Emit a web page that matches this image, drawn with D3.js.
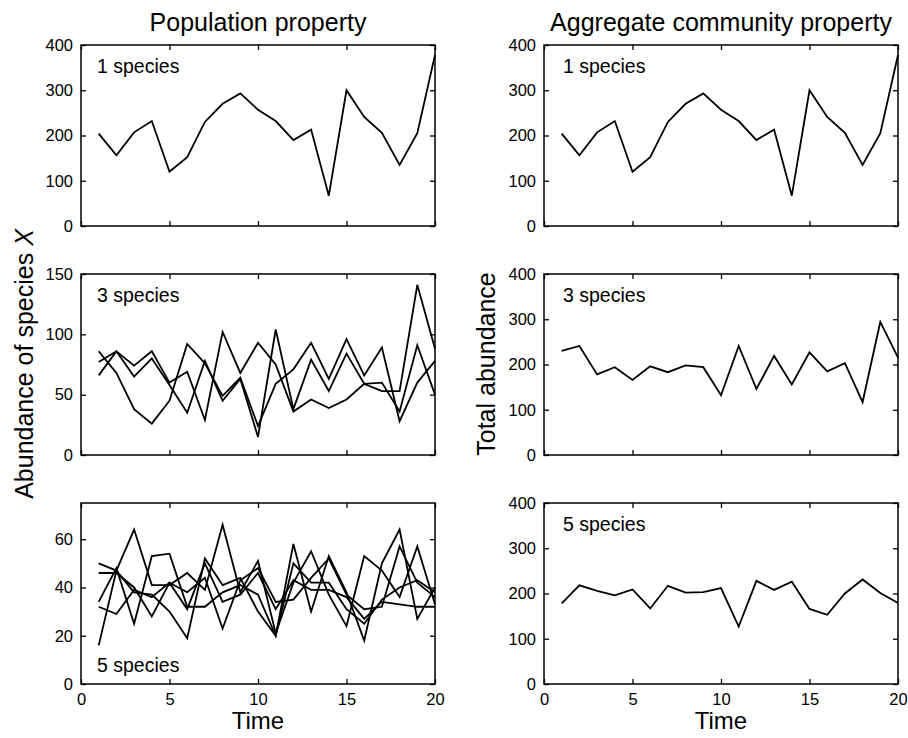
<!DOCTYPE html>
<html>
<head>
<meta charset="utf-8">
<script src="https://cdn.jsdelivr.net/npm/d3@7"></script>
<style>
  body { margin: 0; background: #fff; }
  svg { font-family: "Liberation Sans", Arial, sans-serif; }
</style>
</head>
<body>
<svg id="svg" width="908" height="738"></svg>
<script>
var time = d3.range(1, 21);
var xTicks = [0, 5, 10, 15, 20];

// one species (population = community)
var oneSpecies = [204, 156, 207, 232, 120, 152, 230, 270, 293, 257, 232, 190, 213, 67, 300, 241, 206, 135, 205, 378];

// three species populations
var threeA = [86, 68, 38, 26, 45, 92, 76, 49, 64, 24, 59, 71, 93, 63, 96, 66, 89, 28, 60, 78];
var threeB = [77, 86, 74, 86, 60, 69, 29, 102, 68, 93, 75, 36, 46, 39, 46, 59, 53, 53, 141, 88];
var threeC = [66, 86, 65, 80, 58, 35, 78, 45, 63, 15, 104, 38, 79, 53, 84, 59, 60, 36, 91, 50];
var threeTotal = [230, 241, 178, 194, 166, 196, 183, 198, 194, 132, 241, 146, 219, 156, 227, 185, 203, 117, 294, 215];

// five species populations
var five1 = [16, 47, 64, 41, 41, 46, 39, 66, 38, 51, 21, 42, 55, 37, 24, 53, 47, 36, 57, 33];
var five2 = [50, 47, 38, 37, 30, 19, 52, 41, 44, 30, 20, 58, 30, 53, 38, 18, 50, 64, 27, 40];
var five3 = [46, 46, 40, 28, 42, 38, 44, 23, 43, 48, 34, 35, 44, 52, 37, 31, 32, 57, 42, 36];
var five4 = [34, 48, 25, 53, 54, 32, 32, 38, 41, 37, 20, 50, 42, 42, 31, 25, 35, 40, 43, 38];
var five5 = [32, 29, 39, 36, 42, 31, 50, 34, 37, 46, 31, 43, 39, 39, 36, 27, 34, 33, 32, 32];
var fiveTotal = [178, 218, 206, 196, 209, 167, 217, 202, 203, 212, 127, 228, 208, 226, 166, 153, 200, 231, 201, 179];

var panels = [
  {col: 0, row: 0, label: "1 species", top: true, max: 400, ticks: [0, 100, 200, 300, 400], series: [oneSpecies]},
  {col: 0, row: 1, label: "3 species", top: true, max: 150, ticks: [0, 50, 100, 150], series: [threeA, threeB, threeC]},
  {col: 0, row: 2, label: "5 species", top: false, max: 75, ticks: [0, 20, 40, 60], series: [five1, five2, five3, five4, five5]},
  {col: 1, row: 0, label: "1 species", top: true, max: 400, ticks: [0, 100, 200, 300, 400], series: [oneSpecies]},
  {col: 1, row: 1, label: "3 species", top: true, max: 400, ticks: [0, 100, 200, 300, 400], series: [threeTotal]},
  {col: 1, row: 2, label: "5 species", top: true, max: 400, ticks: [0, 100, 200, 300, 400], series: [fiveTotal]}
];

var svg = d3.select('#svg');
var colX = [81, 544];
var rowY = [45, 274, 503];
var w = 354, h = 181;
var tickLen = 5;

panels.forEach(function(p) {
  var g = svg.append('g').attr('transform', 'translate(' + colX[p.col] + ',' + rowY[p.row] + ')');
  var x = d3.scaleLinear().domain([0, 20]).range([0, w]);
  var y = d3.scaleLinear().domain([0, p.max]).range([h, 0]);

  // inward ticks on all four sides
  var bottom = g.append('g').attr('transform', 'translate(0,' + h + ')')
    .call(d3.axisBottom(x).tickValues(xTicks).tickSize(-tickLen).tickPadding(9));
  if (p.row != 2) bottom.selectAll('text').remove();
  g.append('g').call(d3.axisTop(x).tickValues(xTicks).tickSize(-tickLen).tickFormat(''));
  g.append('g').call(d3.axisLeft(y).tickValues(p.ticks).tickSize(-tickLen).tickPadding(8));
  g.append('g').attr('transform', 'translate(' + w + ',0)')
    .call(d3.axisRight(y).tickValues(p.ticks).tickSize(-tickLen).tickFormat(''));

  g.selectAll('.domain').remove();
  g.selectAll('.tick line').attr('stroke', '#000').attr('stroke-width', 1.3);
  g.selectAll('.tick text').attr('font-size', 16.5).attr('fill', '#000')
    .attr('font-family', '"Liberation Sans", Arial, sans-serif');

  g.append('rect').attr('width', w).attr('height', h)
    .attr('fill', 'none').attr('stroke', '#000').attr('stroke-width', 1.5);

  var line = d3.line().x(function(d, i) { return x(time[i]); }).y(function(d) { return y(d); });
  g.selectAll('path.series').data(p.series).enter().append('path')
    .attr('class', 'series')
    .attr('d', line)
    .attr('fill', 'none').attr('stroke', '#000').attr('stroke-width', 1.8)
    .attr('stroke-linejoin', 'miter');

  g.append('text')
    .attr('x', p.col == 0 ? 16 : 19)
    .attr('y', p.top ? 28 : h - 12)
    .attr('font-size', 19.5)
    .text(p.label);

  if (p.row == 2) {
    g.append('text').attr('x', w / 2).attr('y', h + 45)
      .attr('text-anchor', 'middle').attr('font-size', 24).text('Time');
  }
});

// column titles
svg.append('text').attr('x', colX[0] + w / 2).attr('y', 31)
  .attr('text-anchor', 'middle').attr('font-size', 25).text('Population property');
svg.append('text').attr('x', colX[1] + w / 2).attr('y', 31)
  .attr('text-anchor', 'middle').attr('font-size', 25).text('Aggregate community property');

// y labels
var yl = svg.append('text').attr('transform', 'translate(33,364) rotate(-90)')
  .attr('text-anchor', 'middle').attr('font-size', 25);
yl.append('tspan').text('Abundance of species ');
yl.append('tspan').attr('font-style', 'italic').text('X');

svg.append('text').attr('transform', 'translate(495,364) rotate(-90)')
  .attr('text-anchor', 'middle').attr('font-size', 25).text('Total abundance');
</script>
</body>
</html>
